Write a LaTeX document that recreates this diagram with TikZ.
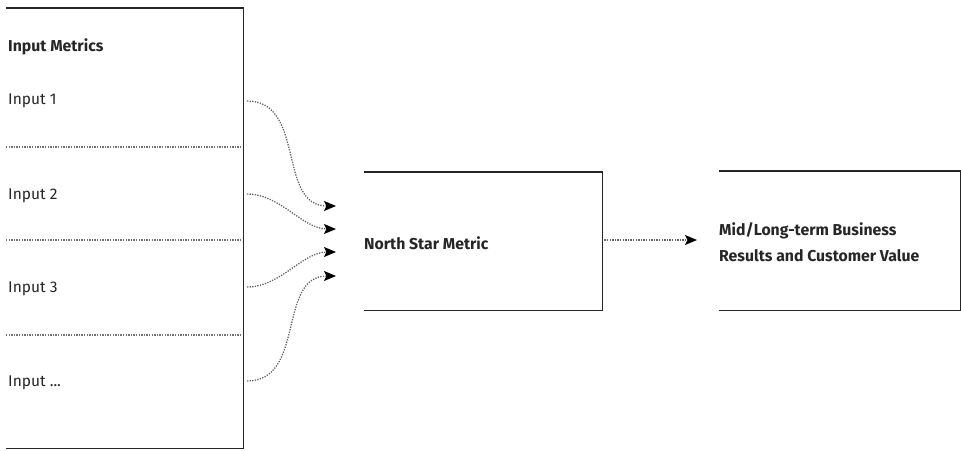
\documentclass[tikz,border=0pt]{standalone}
\usepackage{fontspec}
\setmainfont{Fira Sans}
\usetikzlibrary{arrows.meta}
\begin{document}
\begin{tikzpicture}[x=1pt,y=-1pt,
  boxline/.style={line width=1.8pt, draw=black!85},
  sep/.style={line width=1.3pt, draw=black!55, dash pattern=on 1.3pt off 1.3pt},
  flow/.style={line width=1.3pt, draw=black!60, dash pattern=on 1.3pt off 1.3pt,
    -{Stealth[length=12pt,width=10pt,inset=2.5pt,color=black]}},
  lbl/.style={anchor=west, font=\fontsize{15.5}{18}\selectfont, text=black!85, inner sep=0pt},
  blbl/.style={lbl, font=\fontsize{15.8}{26}\selectfont\bfseries, align=left},
  area/.style={draw=none, inner sep=0pt}]
\useasboundingbox (0,0) rectangle (961,450);
% areas
\node[area, minimum width=237pt, minimum height=440pt, anchor=north west] (inbox) at (6,8) {};
\node[area, minimum width=238pt, minimum height=138pt, anchor=north west] (nsm) at (364,172) {};
\node[area, minimum width=241pt, minimum height=139pt, anchor=north west] (res) at (719,171) {};
% box outlines (top, right, bottom)
\draw[boxline] (inbox.north west) -- (inbox.north east) -- (inbox.south east) -- (inbox.south west);
\draw[boxline] (nsm.north west) -- (nsm.north east) -- (nsm.south east) -- (nsm.south west);
\draw[boxline] (res.north west) -- (res.north east) -- (res.south east) -- (res.south west);
% separators
\coordinate (s1a) at (6,147); \coordinate (s1b) at (241,147);
\coordinate (s2a) at (6,240); \coordinate (s2b) at (241,240);
\coordinate (s3a) at (6,335); \coordinate (s3b) at (241,335);
\draw[sep] (s1a) -- (s1b);
\draw[sep] (s2a) -- (s2b);
\draw[sep] (s3a) -- (s3b);
% texts
\node[blbl] (title) at (8,47) {Input Metrics};
\node[lbl] (i1) at (8,101) {Input 1};
\node[lbl] (i2) at (8,196) {Input 2};
\node[lbl] (i3) at (8,289) {Input 3};
\node[lbl] (i4) at (8,383) {Input ...};
\node[blbl] (nsmt) at (364,243) {North Star Metric};
\node[blbl] (rest) at (719,242) {Mid/Long-term Business\\Results and Customer Value};
% connector ends
\coordinate (o1) at (247,101);
\coordinate (o2) at (247,194);
\coordinate (o3) at (247,287);
\coordinate (o4) at (247,381);
\coordinate (t1) at (336,206);
\coordinate (t2) at (336,229);
\coordinate (t3) at (336,252);
\coordinate (t4) at (336,276);
\draw[flow] (o1) to[out=0,in=180,looseness=1.1] (t1);
\draw[flow] (o2) to[out=0,in=180,looseness=0.9] (t2);
\draw[flow] (o3) to[out=0,in=180,looseness=0.9] (t3);
\draw[flow] (o4) to[out=0,in=180,looseness=1.1] (t4);
\coordinate (m1) at (nsm.east |- 0,240);
\coordinate (m2) at (697,240);
\draw[flow] ([xshift=2pt]m1) -- (m2);
\end{tikzpicture}
\end{document}
